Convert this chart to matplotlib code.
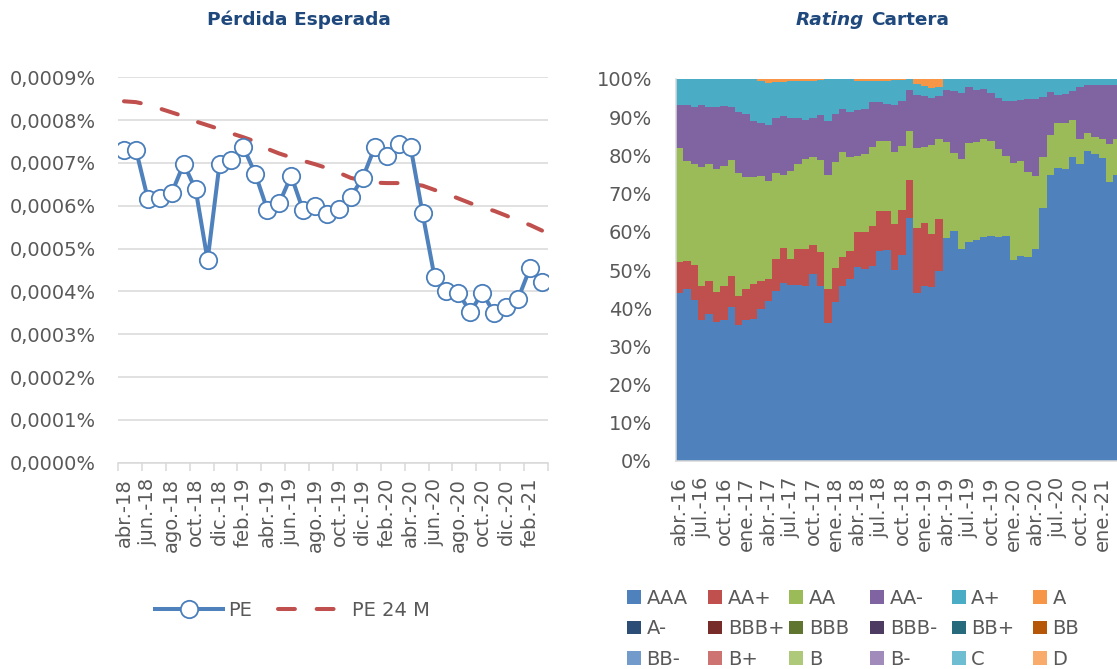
import matplotlib.pyplot as plt
import numpy as np
from matplotlib.patches import Patch

plt.rcParams['font.family'] = ['DejaVu Sans']

GRAY = '#595959'
GRID = '#D9D9D9'
TITLE = '#1F497D'

# --- Pérdida Esperada (en %) ---
pe_labels = ['abr.-18', 'jun.-18', 'ago.-18', 'oct.-18', 'dic.-18', 'feb.-19',
             'abr.-19', 'jun.-19', 'ago.-19', 'oct.-19', 'dic.-19', 'feb.-20',
             'abr.-20', 'jun.-20', 'ago.-20', 'oct.-20', 'dic.-20', 'feb.-21']
pe = [0.000730, 0.000731, 0.000616, 0.000618, 0.000630, 0.000698, 0.000638, 0.000473,
      0.000698, 0.000708, 0.000737, 0.000674, 0.000591, 0.000606, 0.000670, 0.000589,
      0.000599, 0.000581, 0.000593, 0.000621, 0.000666, 0.000737, 0.000717, 0.000744,
      0.000737, 0.000582, 0.000434, 0.000401, 0.000396, 0.000352, 0.000397, 0.000349,
      0.000363, 0.000383, 0.000455, 0.000422]
pe_24m = [0.000844, 0.000842, 0.000836, 0.000827, 0.000818, 0.000809, 0.000797, 0.000788,
          0.000779, 0.000769, 0.000760, 0.000750, 0.000733, 0.000722, 0.000713, 0.000705,
          0.000697, 0.000688, 0.000677, 0.000665, 0.000659, 0.000654, 0.000653, 0.000653,
          0.000651, 0.000647, 0.000637, 0.000628, 0.000617, 0.000606, 0.000596, 0.000588,
          0.000577, 0.000565, 0.000555, 0.000542]

# --- Rating Cartera (% de la cartera, abr.-16 a mar.-21) ---
rt_labels = ['abr.-16', 'jul.-16', 'oct.-16', 'ene.-17', 'abr.-17', 'jul.-17', 'oct.-17',
             'ene.-18', 'abr.-18', 'jul.-18', 'oct.-18', 'ene.-19', 'abr.-19', 'jul.-19',
             'oct.-19', 'ene.-20', 'abr.-20', 'jul.-20', 'oct.-20', 'ene.-21']
r_aaa = [44.0, 45.1, 42.1, 36.8, 38.5, 36.4, 37.0, 40.2, 35.7, 36.8, 37.3, 39.9, 42.0, 44.6, 46.7,
         46.0, 46.2, 45.7, 49.0, 45.9, 36.2, 41.6, 45.7, 47.7, 50.8, 50.2, 51.0, 55.0, 55.2, 50.0,
         53.8, 63.7, 44.0, 45.8, 45.5, 49.7, 58.5, 60.2, 55.6, 57.2, 57.9, 58.6, 58.8, 58.6, 58.8,
         52.7, 53.6, 53.3, 55.6, 66.1, 74.9, 76.7, 76.4, 79.6, 77.8, 81.1, 80.4, 79.3, 73.0, 74.8]
r_aa_plus = [8.1, 7.3, 9.1, 9.0, 8.6, 7.8, 8.9, 8.1, 7.5, 8.1, 9.0, 7.1, 5.6, 8.3, 9.1,
             6.9, 9.2, 9.7, 7.5, 8.8, 8.9, 9.0, 7.7, 7.3, 9.1, 9.7, 10.6, 10.4, 10.2, 12.0,
             11.8, 9.9, 17.1, 16.4, 14.0, 13.7, 0, 0, 0, 0, 0, 0, 0, 0, 0,
             0, 0, 0, 0, 0, 0, 0, 0, 0, 0, 0, 0, 0, 0, 0]
r_aa = [29.8, 26.1, 26.5, 31.2, 30.6, 32.2, 31.2, 30.4, 32.3, 29.4, 28.0, 27.7, 25.8, 22.6, 19.2,
        23.0, 22.3, 23.7, 23.0, 24.2, 29.8, 27.7, 27.5, 24.6, 20.0, 20.4, 20.6, 18.5, 18.4, 18.9,
        16.9, 12.7, 20.8, 20.0, 23.3, 21.0, 25.0, 20.4, 23.5, 26.1, 25.6, 25.8, 25.1, 23.0, 21.0,
        25.4, 25.0, 22.4, 18.9, 13.6, 10.4, 11.8, 12.2, 9.6, 6.6, 4.8, 4.4, 5.1, 10.1, 9.6]
r_aa_minus = [11.4, 14.6, 15.1, 16.3, 15.1, 16.4, 15.9, 14.1, 15.9, 16.5, 14.6, 13.8, 14.5, 14.4, 15.2,
              14.0, 12.0, 10.2, 10.2, 11.8, 14.2, 12.6, 11.3, 11.8, 12.0, 11.8, 11.8, 10.1, 9.7, 12.2,
              11.8, 10.7, 13.8, 13.3, 12.3, 11.1, 13.5, 16.3, 17.3, 14.6, 13.5, 12.9, 12.5, 13.4, 14.4,
              16.1, 16.0, 19.1, 20.2, 15.6, 11.3, 7.3, 7.6, 7.6, 13.5, 12.6, 13.7, 14.0, 15.3, 14.0]
r_a_plus = [6.7, 6.9, 7.2, 6.7, 7.2, 7.2, 7.0, 7.2, 8.6, 9.2, 11.1, 10.9, 11.1, 9.2, 9.1,
            9.5, 9.8, 10.2, 9.9, 9.0, 10.9, 9.1, 7.8, 8.6, 7.7, 7.3, 5.5, 5.6, 6.1, 6.6,
            5.4, 3.0, 2.9, 2.7, 2.6, 2.4, 3.0, 3.1, 3.6, 2.1, 3.0, 2.7, 3.6, 5.0, 5.8,
            5.8, 5.4, 5.2, 5.3, 4.7, 3.4, 4.2, 3.8, 3.2, 2.1, 1.5, 1.5, 1.6, 1.6, 1.6]
r_a = [0, 0, 0, 0, 0, 0, 0, 0, 0, 0, 0, 0.6, 1.0, 0.9, 0.7,
       0.6, 0.5, 0.5, 0.4, 0.3, 0, 0, 0, 0, 0.4, 0.6, 0.5, 0.4, 0.4, 0.3,
       0.3, 0, 1.4, 1.8, 2.3, 2.1, 0, 0, 0, 0, 0, 0, 0, 0, 0,
       0, 0, 0, 0, 0, 0, 0, 0, 0, 0, 0, 0, 0, 0, 0]

rating_names = ['AAA', 'AA+', 'AA', 'AA-', 'A+', 'A',
                'A-', 'BBB+', 'BBB', 'BBB-', 'BB+', 'BB',
                'BB-', 'B+', 'B', 'B-', 'C', 'D']
rating_colors = ['#4F81BD', '#C0504D', '#9BBB59', '#8064A2', '#4BACC6', '#F79646',
                 '#2C4D75', '#772C2A', '#5F7530', '#4D3B62', '#276A7C', '#B65708',
                 '#729ACA', '#CD7371', '#AFC97A', '#A18BBB', '#6FBDD1', '#F9AB6B']
rating_data = [r_aaa, r_aa_plus, r_aa, r_aa_minus, r_a_plus, r_a]  # resto de ratings = 0

W, H = 1117, 669
fig = plt.figure(figsize=(W / 100, H / 100), dpi=100)

# ---------------- left chart ----------------
ax1 = fig.add_axes([118 / W, 1 - 462.7 / H, 430 / W, 385.4 / H])
x = np.arange(len(pe))
l_pe24, = ax1.plot(x, pe_24m, color='#C0504D', lw=2.9, dashes=(4.2, 5.4),
                   dash_capstyle='round', zorder=2, label='PE 24 M')
l_pe, = ax1.plot(x, pe, color='#4F81BD', lw=2.9, marker='o', ms=12.5,
                 mfc='white', mec='#4A7EBB', mew=1.3, zorder=3, label='PE')
ax1.set_xlim(-0.5, len(pe) - 0.5)
ax1.set_ylim(0, 0.0009)
yt = [i * 0.0001 for i in range(10)]
ax1.set_yticks(yt)
ax1.set_yticklabels([f'{v:.4f}%'.replace('.', ',') for v in yt])
ax1.set_xticks(np.arange(0, len(pe), 2))
ax1.set_xticklabels(pe_labels, rotation=90)
ax1.set_xticks(np.arange(-0.5, len(pe), 2), minor=True)
ax1.tick_params(axis='x', which='major', length=0, pad=11, labelsize=14, labelcolor=GRAY)
ax1.tick_params(axis='x', which='minor', length=6, color=GRID, width=1.1)
ax1.tick_params(axis='y', length=0, pad=16, labelsize=14, labelcolor=GRAY)
ax1.yaxis.grid(True, color=GRID, lw=1.1)
ax1.set_axisbelow(True)
for s in ['top', 'right', 'left']:
    ax1.spines[s].set_visible(False)
ax1.spines['bottom'].set_color(GRID)
ax1.spines['bottom'].set_linewidth(1.1)

fig.text(299 / W, 1 - 20 / H, 'Pérdida Esperada', ha='center', va='center',
         fontsize=13.3, fontweight='bold', color=TITLE)

fig.legend(handles=[l_pe, l_pe24], loc='center', bbox_to_anchor=(292 / W, 1 - 610 / H),
           ncol=2, frameon=False, handlelength=3.5, handletextpad=0.3, columnspacing=1.3,
           numpoints=1, fontsize=14, labelcolor=GRAY, borderpad=0, borderaxespad=0)

# ---------------- right chart ----------------
ax2 = fig.add_axes([675.7 / W, 1 - 461 / H, 445.2 / W, 382 / H])
xr = np.arange(len(r_aaa))
bottom = np.zeros(len(r_aaa))
for vals, col in zip(rating_data, rating_colors):
    vals = np.array(vals)
    ax2.bar(xr, vals, width=1.0, bottom=bottom, color=col, linewidth=0, antialiased=False)
    bottom += vals
ax2.set_xlim(-0.5, len(r_aaa) - 0.5)
ax2.set_ylim(0, 100)
ax2.set_yticks(range(0, 101, 10))
ax2.set_yticklabels([f'{v}%' for v in range(0, 101, 10)])
ax2.set_xticks(np.arange(0, len(r_aaa), 3))
ax2.set_xticklabels(rt_labels, rotation=90)
ax2.tick_params(axis='x', length=0, pad=11, labelsize=14, labelcolor=GRAY)
ax2.tick_params(axis='y', length=0, pad=17, labelsize=14, labelcolor=GRAY)
for s in ['top', 'right']:
    ax2.spines[s].set_visible(False)
for s in ['left', 'bottom']:
    ax2.spines[s].set_color(GRID)
    ax2.spines[s].set_linewidth(1.1)

fig.text(864 / W, 1 - 20 / H, 'Rating', ha='right', va='center', fontsize=13.3,
         fontweight='bold', fontstyle='italic', color=TITLE)
fig.text(871 / W, 1 - 20 / H, 'Cartera', ha='left', va='center', fontsize=13.3,
         fontweight='bold', color=TITLE)

# legend: 3 filas x 6 columnas
for j in range(6):
    idx = [r * 6 + j for r in range(3)]
    handles = [Patch(facecolor=rating_colors[i], edgecolor='none') for i in idx]
    labels = [rating_names[i] for i in idx]
    fig.legend(handles, labels, loc='upper left',
               bbox_to_anchor=((626.7 + 81.2 * j) / W, 1 - 589 / H),
               frameon=False, handlelength=0.72, handleheight=0.72, handletextpad=0.3,
               labelspacing=0.58, borderpad=0, borderaxespad=0, fontsize=14,
               labelcolor=GRAY)

fig.savefig('out.png', dpi=100)
